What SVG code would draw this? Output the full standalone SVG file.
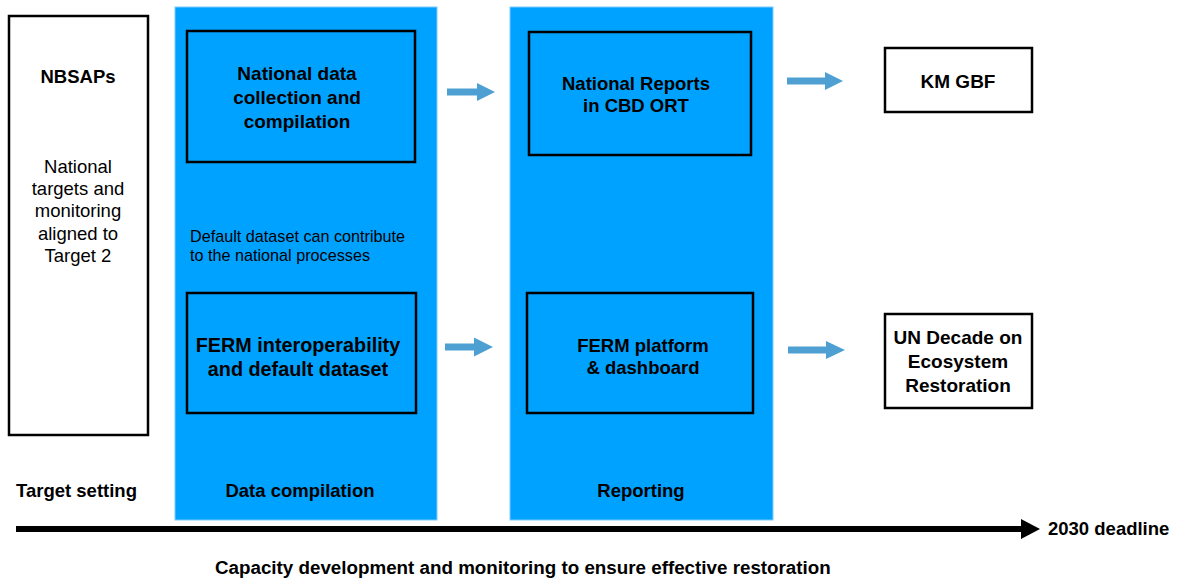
<svg xmlns="http://www.w3.org/2000/svg" width="1179" height="581" viewBox="0 0 1179 581">
<style>
text{font-family:"Liberation Sans",Arial,sans-serif;fill:#000}
.b{font-weight:bold}
.t{font-size:19px;font-weight:bold;text-anchor:middle}
.l{font-size:18.5px;font-weight:bold}
.col{fill:#00A2FF;stroke:#7CCBFF;stroke-width:1}
.inner{fill:#00A2FF;stroke:#000;stroke-width:2.5}
.wbox{fill:#fff;stroke:#000;stroke-width:2.5}
.arr{fill:#4FA0D2}
</style>
<g id="nbsaps">
<rect class="wbox" x="9" y="16" width="139" height="419"/>
<text class="t" x="78" y="83" style="font-size:18.5px">NBSAPs</text>
<g style="font-size:18.5px;text-anchor:middle">
<text x="78" y="173">National</text>
<text x="78" y="195">targets and</text>
<text x="78" y="217">monitoring</text>
<text x="78" y="240">aligned to</text>
<text x="78" y="262">Target 2</text>
</g>
</g>
<text id="target-setting" class="l" x="16" y="497">Target setting</text>
<g id="data-compilation">
<rect class="col" x="175" y="7" width="262" height="513"/>
<text class="l" x="300" y="497" text-anchor="middle">Data compilation</text>
</g>
<g id="reporting">
<rect class="col" x="510" y="7" width="263" height="513"/>
<text class="l" x="641" y="497" text-anchor="middle">Reporting</text>
</g>
<g id="national-data">
<rect class="inner" x="187" y="31" width="228" height="131"/>
<text class="t" x="297" y="80">National data</text>
<text class="t" x="297" y="104">collection and</text>
<text class="t" x="297" y="128">compilation</text>
</g>
<text id="default-note" x="190" y="242" style="font-size:16.2px">Default dataset can contribute<tspan x="190" y="261">to the national processes</tspan></text>
<g id="ferm-interop">
<rect class="inner" x="187" y="293" width="229" height="120"/>
<text class="t" x="298" y="352" style="font-size:19.8px">FERM interoperability</text>
<text class="t" x="298" y="376" style="font-size:19.8px">and default dataset</text>
</g>
<g id="national-reports">
<rect class="inner" x="529" y="32" width="222" height="123"/>
<text class="t" x="636" y="90" style="font-size:18.5px">National Reports</text>
<text class="t" x="636" y="112" style="font-size:18.5px">in CBD ORT</text>
</g>
<g id="ferm-platform">
<rect class="inner" x="527" y="293" width="226" height="120"/>
<text class="t" x="643" y="352" style="font-size:18.5px">FERM platform</text>
<text class="t" x="643" y="374" style="font-size:18.5px">&amp; dashboard</text>
</g>
<g id="km-gbf">
<rect class="wbox" x="885" y="48" width="147" height="64"/>
<text class="t" x="958" y="88">KM GBF</text>
</g>
<g id="un-decade">
<rect class="wbox" x="885" y="314" width="147" height="94"/>
<text class="t" x="958" y="344">UN Decade on</text>
<text class="t" x="958" y="368">Ecosystem</text>
<text class="t" x="958" y="392">Restoration</text>
</g>
<g id="connectors">
<polygon class="arr" points="447,88.5 477,88.5 477,83 495,92 477,101 477,95.5 447,95.5"/>
<polygon class="arr" points="787,77.5 825,77.5 825,72 843,81 825,90 825,84.5 787,84.5"/>
<polygon class="arr" points="445,343.5 474,343.5 474,337.5 493,347 474,356.5 474,350.5 445,350.5"/>
<polygon class="arr" points="788,346.5 826,346.5 826,341 845,350 826,359 826,353.5 788,353.5"/>
<rect x="16" y="526" width="1008" height="6" fill="#000"/>
<polygon points="1021,519 1040,529 1021,539" fill="#000"/>
</g>
<text id="deadline" class="l" x="1048" y="535">2030 deadline</text>
<text id="caption" class="l" x="215" y="574" style="font-size:18.8px">Capacity development and monitoring to ensure effective restoration</text>
</svg>
